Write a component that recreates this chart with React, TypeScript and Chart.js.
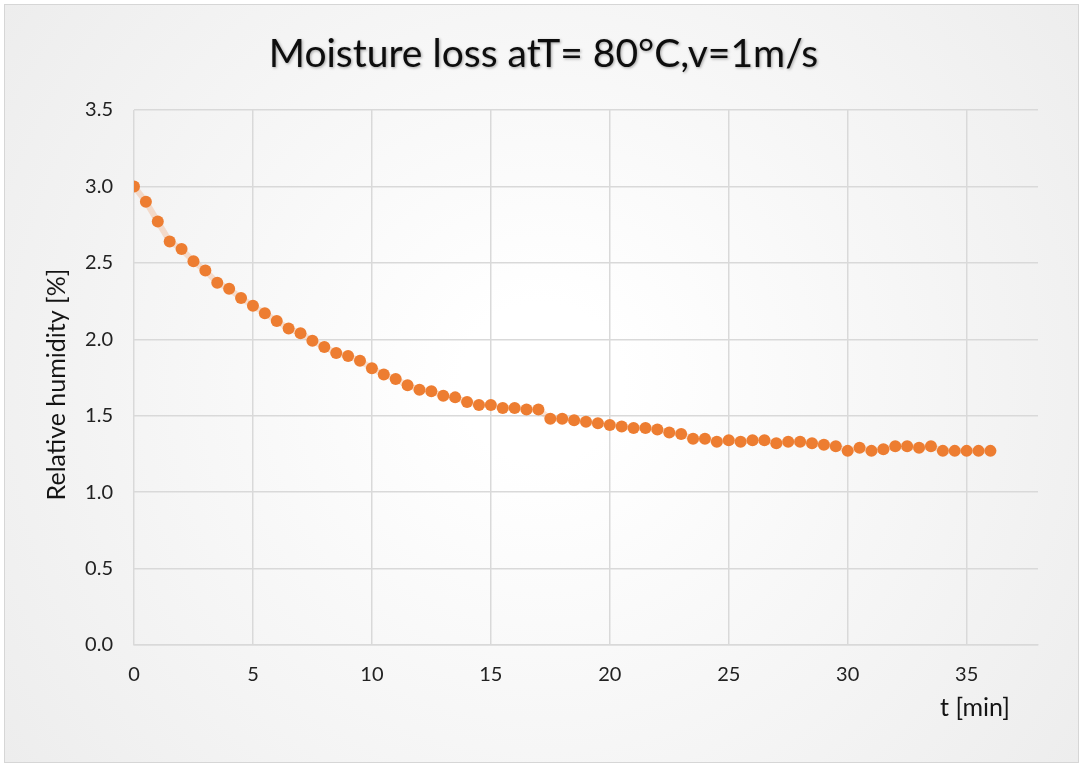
import { useEffect, useRef } from "react";
import { Chart, registerables } from "chart.js";

Chart.register(...registerables);

// Drying time in minutes, one reading every half minute
const timeMin = [
  0, 0.5, 1, 1.5, 2, 2.5, 3, 3.5, 4, 4.5, 5, 5.5, 6, 6.5, 7, 7.5, 8, 8.5, 9, 9.5,
  10, 10.5, 11, 11.5, 12, 12.5, 13, 13.5, 14, 14.5, 15, 15.5, 16, 16.5, 17, 17.5,
  18, 18.5, 19, 19.5, 20, 20.5, 21, 21.5, 22, 22.5, 23, 23.5, 24, 24.5, 25, 25.5,
  26, 26.5, 27, 27.5, 28, 28.5, 29, 29.5, 30, 30.5, 31, 31.5, 32, 32.5, 33, 33.5,
  34, 34.5, 35, 35.5, 36,
];

// Relative humidity [%] measured at each time step
const humidity = [
  3.0, 2.9, 2.77, 2.64, 2.59, 2.51, 2.45, 2.37, 2.33, 2.27, 2.22, 2.17, 2.12, 2.07,
  2.04, 1.99, 1.95, 1.91, 1.89, 1.86, 1.81, 1.77, 1.74, 1.7, 1.67, 1.66, 1.63, 1.62,
  1.59, 1.57, 1.57, 1.55, 1.55, 1.54, 1.54, 1.48, 1.48, 1.47, 1.46, 1.45, 1.44, 1.43,
  1.42, 1.42, 1.41, 1.39, 1.38, 1.35, 1.35, 1.33, 1.34, 1.33, 1.34, 1.34, 1.32, 1.33,
  1.33, 1.32, 1.31, 1.3, 1.27, 1.29, 1.27, 1.28, 1.3, 1.3, 1.29, 1.3, 1.27, 1.27,
  1.27, 1.27, 1.27,
];

const chartTitle = "Moisture loss atT= 80°C,v=1m/s";
const xAxisTitle = "t [min]";
const yAxisTitle = "Relative humidity [%]";

const xRange = { min: 0, max: 38, step: 5 };
const yRange = { min: 0, max: 3.5, step: 0.5 };

const FONT = "Lato, 'Open Sans', sans-serif";
const W = 1083;
const H = 765;

// Paints the framed, softly shaded backdrop and the chart/axis titles
const framePlugin = {
  id: "frame",
  beforeDraw(chart: any) {
    const { ctx } = chart;
    ctx.save();
    ctx.fillStyle = "#ffffff";
    ctx.fillRect(0, 0, W, H);
    const g = ctx.createRadialGradient(W / 2, H / 2, 80, W / 2, H / 2, 720);
    g.addColorStop(0, "#ffffff");
    g.addColorStop(1, "#ebebeb");
    ctx.fillStyle = g;
    ctx.fillRect(4.5, 4.5, 1074, 758);
    ctx.strokeStyle = "#d6d6d6";
    ctx.lineWidth = 1;
    ctx.strokeRect(4.5, 4.5, 1074, 758);
    ctx.restore();
  },
  afterDraw(chart: any) {
    const { ctx, chartArea } = chart;
    ctx.save();
    // main title
    ctx.font = `39px ${FONT}`;
    ctx.fillStyle = "#0d0d0d";
    ctx.textAlign = "center";
    ctx.textBaseline = "alphabetic";
    ctx.shadowColor = "rgba(0,0,0,0.35)";
    ctx.shadowBlur = 3;
    ctx.shadowOffsetX = 1;
    ctx.shadowOffsetY = 1;
    ctx.fillText(chartTitle, W / 2 + 2, 67);
    ctx.shadowColor = "transparent";

    // x axis title, right side under the tick labels
    ctx.font = `25px ${FONT}`;
    ctx.fillStyle = "#141414";
    ctx.textAlign = "center";
    ctx.fillText(xAxisTitle, 975, 716);

    // y axis title, rotated
    ctx.translate(65, (chartArea.top + chartArea.bottom) / 2 + 7);
    ctx.rotate(-Math.PI / 2);
    ctx.textAlign = "center";
    ctx.fillText(yAxisTitle, 0, 0);
    ctx.restore();
  },
};

export default function App() {
  const canvasRef = useRef<HTMLCanvasElement | null>(null);

  useEffect(() => {
    const canvas = canvasRef.current;
    if (!canvas) return;
    const points = timeMin.map((t, i) => ({ x: t, y: humidity[i] }));
    const chart = new Chart(canvas, {
      type: "scatter",
      data: {
        datasets: [
          {
            label: "Relative humidity",
            data: points,
            showLine: true,
            borderColor: "rgba(237,125,49,0.22)",
            borderWidth: 6,
            pointRadius: 6,
            pointHoverRadius: 6,
            pointBackgroundColor: "#ED7D31",
            pointBorderColor: "#ED7D31",
            pointBorderWidth: 0,
          },
        ],
      },
      options: {
        responsive: false,
        animation: false,
        layout: { padding: { top: 110, left: 10, right: 45, bottom: 10 } },
        plugins: {
          legend: { display: false },
          title: { display: false },
          tooltip: { enabled: false },
        },
        scales: {
          x: {
            type: "linear",
            min: xRange.min,
            max: xRange.max,
            afterFit(scale: any) {
              scale.height = 110;
            },
            grid: { color: "#d9d9d9", lineWidth: 1.5, drawTicks: false },
            border: { color: "#d9d9d9", width: 1.5 },
            ticks: {
              stepSize: xRange.step,
              includeBounds: false,
              padding: 18,
              color: "#222222",
              font: { family: FONT, size: 20 },
            },
          },
          y: {
            type: "linear",
            min: yRange.min,
            max: yRange.max,
            afterFit(scale: any) {
              scale.width = 124;
            },
            grid: { color: "#d9d9d9", lineWidth: 1.5, drawTicks: false },
            border: { display: false },
            ticks: {
              stepSize: yRange.step,
              padding: 21,
              color: "#222222",
              font: { family: FONT, size: 20 },
              callback: (v: any) => Number(v).toFixed(1),
            },
          },
        },
      },
      plugins: [framePlugin],
    });
    return () => chart.destroy();
  }, []);

  return (
    <div style={{ position: "fixed", left: 0, top: 0, width: W, height: H }}>
      <canvas ref={canvasRef} width={W} height={H} style={{ width: W, height: H, display: "block" }} />
    </div>
  );
}
